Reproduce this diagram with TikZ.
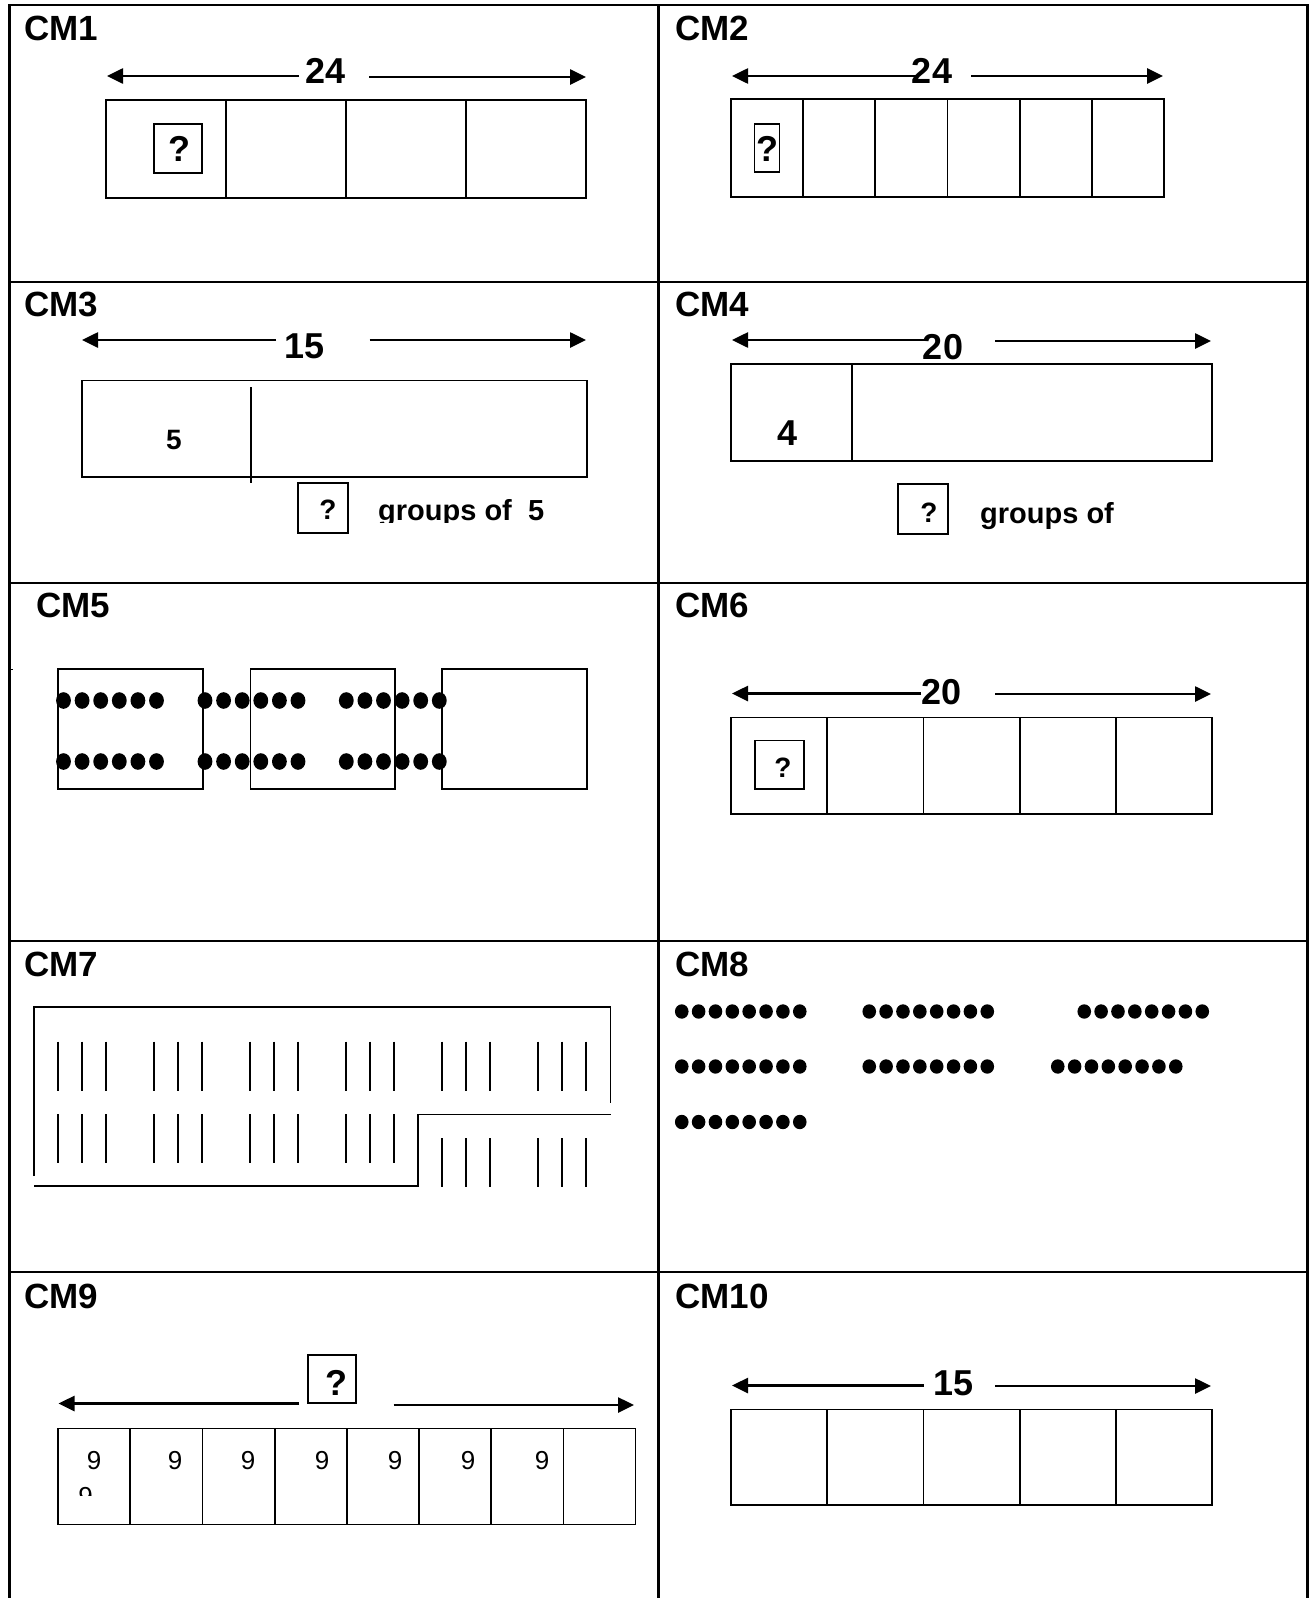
\documentclass[tikz,border=0pt]{standalone}
\usepackage{fontspec}
\setmainfont{Liberation Sans}
\usetikzlibrary{arrows.meta, positioning}

\begin{document}
\begin{tikzpicture}[x=1pt, y=-1pt,
  grid/.style={line width=2.8pt},
  bar/.style={line width=1.8pt},
  tally/.style={line width=1.9pt},
  dimarrow/.style={line width=2.6pt, -{Triangle[length=16pt,width=15pt]}},
  cmlabel/.style={anchor=base west, inner sep=0pt, font={\fontsize{35}{40}\selectfont\bfseries}},
  bignum/.style={inner sep=0pt, font={\fontsize{36}{40}\selectfont\bfseries}},
  midnum/.style={inner sep=0pt, font={\fontsize{28}{32}\selectfont\bfseries}},
  nine/.style={inner sep=0pt, font={\fontsize{26}{30}\selectfont}},
  words/.style={anchor=base west, inner sep=0pt, font={\fontsize{29}{34}\selectfont\bfseries}},
  qbox/.style={draw, line width=1.8pt, inner sep=0pt}]

\useasboundingbox (0,0) rectangle (1309,1598);

% table
\draw[grid] (9.5,1598) -- (9.5,5) -- (1307.5,5) -- (1307.5,1598);
\draw[grid] (658.5,5) -- (658.5,1598);
\foreach \y in {282,583,941,1272}
  \draw[grid] (9.5,\y) -- (1307.5,\y);

% CM1
\node[cmlabel] (cm1) at (24,40) {CM1};
\coordinate (a1l) at (107,76);
\coordinate (a1m) at (299,76);
\coordinate (a1n) at (369,77);
\coordinate (a1r) at (586,77);
\draw[dimarrow] (a1m) -- (a1l);
\draw[dimarrow] (a1n) -- (a1r);
\node[bignum] (n1) at (325.5,71) {24};
\draw[bar] (106,100) rectangle (586,198);
\foreach \x in {226,346,466}
  \draw[bar] (\x,100) -- (\x,198);
\node[qbox, minimum width=48pt, minimum height=49pt] (q1) at (178,148.5) {};
\node[bignum] (q1m) at (179,148.5) {?};

% CM2
\node[cmlabel] (cm2) at (675,40) {CM2};
\coordinate (a2l) at (732,76);
\coordinate (a2m) at (919,76);
\coordinate (a2n) at (971,76);
\coordinate (a2r) at (1163,76);
\draw[dimarrow] (a2m) -- (a2l);
\draw[dimarrow] (a2n) -- (a2r);
\node[bignum] (n2) at (932,71) {24};
\draw[bar] (731,99) rectangle (1164,197);
\foreach \k in {1,...,5}
  \draw[bar] (731+72.17*\k,99) -- (731+72.17*\k,197);
\node[qbox, minimum width=25pt, minimum height=48pt] (q2) at (767,148) {};
\node[bignum] (q2m) at (767,149) {?};

% CM3
\node[cmlabel] (cm3) at (24,316) {CM3};
\coordinate (a3l) at (82,340);
\coordinate (a3m) at (276,340);
\coordinate (a3n) at (369.5,340);
\coordinate (a3r) at (586,340);
\draw[dimarrow] (a3m) -- (a3l);
\draw[dimarrow] (a3n) -- (a3r);
\node[bignum] (n3) at (304.5,346.5) {15};
\draw[bar] (82,380.5) rectangle (587,477);
\draw[bar] (251,387) -- (251,483);
\node[midnum] (five) at (174,440) {5};
\node[qbox, minimum width=50pt, minimum height=50pt] (q3) at (323,508) {};
\node[midnum] (q3m) at (328,510) {?};
\begin{scope}
  \clip (370,480) rectangle (570,522);
  \node[words] (g3) at (378,520) {groups of\ \ 5};
\end{scope}

% CM4
\node[cmlabel] (cm4) at (675,316) {CM4};
\coordinate (a4l) at (732,340);
\coordinate (a4m) at (925,340);
\coordinate (a4n) at (995,341);
\coordinate (a4r) at (1211,341);
\draw[dimarrow] (a4m) -- (a4l);
\draw[dimarrow] (a4n) -- (a4r);
\node[bignum] (n4) at (943,347) {20};
\draw[bar] (731,364) rectangle (1212,461);
\draw[bar] (852,364) -- (852,461);
\node[bignum] (four) at (788,433) {4};
\node[qbox, minimum width=50pt, minimum height=50pt] (q4) at (923,509) {};
\node[midnum] (q4m) at (929,513) {?};
\node[words] (g4) at (980,523) {groups of};

% CM5
\node[cmlabel] (cm5) at (36,617) {CM5};
\draw[line width=1pt] (9.5,669) -- (12.5,669);
\draw[bar] (58,669) rectangle (203,789);
\draw[bar] (250.5,669) rectangle (395,789);
\draw[bar] (442,669) rectangle (587,789);
\foreach \y in {700.5,761.5}
  \foreach \g in {63.5,205,346.3}
    \foreach \k in {0,...,5}
      \fill (\g+18.6*\k,\y) ellipse (7.4 and 8.3);

% CM6
\node[cmlabel] (cm6) at (675,617) {CM6};
\coordinate (a6l) at (732,693.5);
\coordinate (a6m) at (921,693.5);
\coordinate (a6n) at (995,694);
\coordinate (a6r) at (1211,694);
\draw[dimarrow] (a6m) -- (a6l);
\draw[dimarrow] (a6n) -- (a6r);
\node[bignum] (n6) at (941.5,692) {20};
\draw[bar] (731,717.5) rectangle (1212,814);
\foreach \k in {1,...,4}
  \draw[bar] (731+96.2*\k,717.5) -- (731+96.2*\k,814);
\node[qbox, minimum width=49pt, minimum height=48.5pt] (q6) at (779.5,764.8) {};
\node[midnum] (q6m) at (783,768) {?};

% CM7
\node[cmlabel] (cm7) at (24,976) {CM7};
\draw[bar] (34,1176) -- (34,1007) -- (610.5,1007) -- (610.5,1103);
\draw[bar] (34,1186) -- (418,1186) -- (418,1114.5) -- (611,1114.5);
\foreach \g in {0,...,5}
  \foreach \k in {0,1,2}
    \draw[tally] (58+96*\g+24*\k,1041.5) -- ++(0,49);
\foreach \g in {0,...,3}
  \foreach \k in {0,1,2}
    \draw[tally] (58+96*\g+24*\k,1114) -- ++(0,48.5);
\foreach \g in {4,5}
  \foreach \k in {0,1,2}
    \draw[tally] (58+96*\g+24*\k,1138) -- ++(0,49);

% CM8
\node[cmlabel] (cm8) at (675,976) {CM8};
\foreach \x/\y in {675/1011.5, 862.5/1011.5, 1077.5/1011.5,
                   675/1066.5, 862.5/1066.5, 1051/1066.5,
                   675/1122}
  \foreach \k in {0,...,7}
    \fill (\x+6.75+16.86*\k,\y) ellipse (6.8 and 7.2);

% CM9
\node[cmlabel] (cm9) at (24,1308) {CM9};
\node[qbox, minimum width=48.5pt, minimum height=48pt] (q9) at (332,1379) {};
\node[bignum] (q9m) at (336,1382.5) {?};
\coordinate (a9l) at (58.5,1403.5);
\coordinate (a9m) at (299,1403.5);
\coordinate (a9n) at (393.5,1405);
\coordinate (a9r) at (634,1405);
\draw[dimarrow] (a9m) -- (a9l);
\draw[dimarrow] (a9n) -- (a9r);
\draw[bar] (58,1428.5) rectangle (635.5,1524.5);
\foreach \k in {1,...,7}
  \draw[bar] (58+72.2*\k,1428.5) -- (58+72.2*\k,1524.5);
\foreach \x [count=\i] in {94,175,248,322,395,468,542}
  \node[nine] (nine\i) at (\x,1461) {9};
\begin{scope}
  \clip (60,1480) rectangle (128,1495.5);
  \node[nine] (nine0) at (85.6,1496.5) {9};
\end{scope}

% CM10
\node[cmlabel] (cm10) at (675,1308) {CM10};
\coordinate (a10l) at (732,1385.5);
\coordinate (a10m) at (923.5,1385.5);
\coordinate (a10n) at (995,1386);
\coordinate (a10r) at (1211,1386);
\draw[dimarrow] (a10m) -- (a10l);
\draw[dimarrow] (a10n) -- (a10r);
\node[bignum] (n10) at (953.5,1383) {15};
\draw[bar] (731,1409.5) rectangle (1212,1505);
\foreach \k in {1,...,4}
  \draw[bar] (731+96.2*\k,1409.5) -- (731+96.2*\k,1505);

\end{tikzpicture}
\end{document}
